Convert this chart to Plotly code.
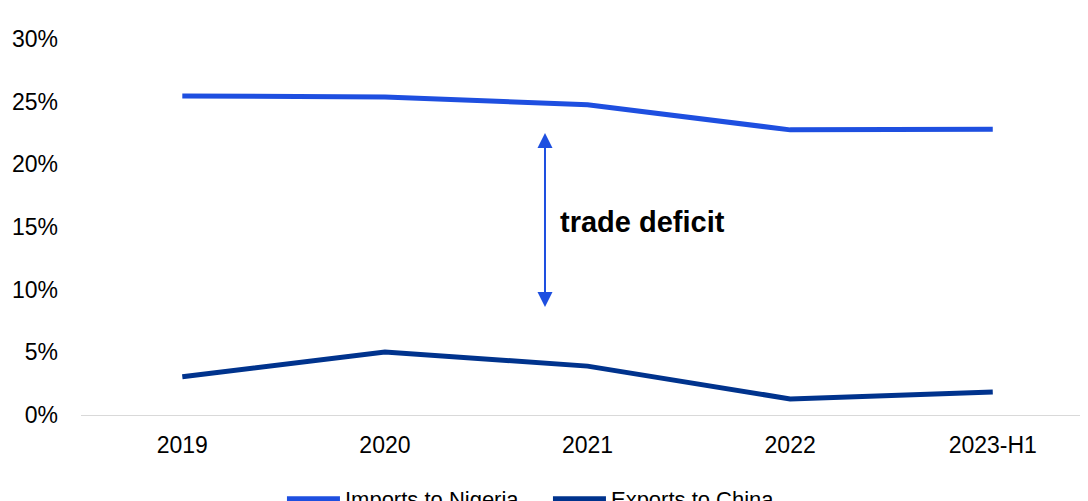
import plotly.graph_objects as go

categories = ["2019", "2020", "2021", "2022", "2023-H1"]
imports_to_nigeria = [25.45, 25.38, 24.75, 22.75, 22.8]
exports_to_china = [3.05, 5.02, 3.9, 1.28, 1.83]
y_ticks = [0, 5, 10, 15, 20, 25, 30]
y_tick_labels = ["0%", "5%", "10%", "15%", "20%", "25%", "30%"]

IMP_COLOR = "#1E4FE0"
EXP_COLOR = "#00338D"

fig = go.Figure()
fig.add_trace(go.Scatter(x=categories, y=imports_to_nigeria, mode="lines",
                         name="Imports to Nigeria",
                         line=dict(color=IMP_COLOR, width=5)))
fig.add_trace(go.Scatter(x=categories, y=exports_to_china, mode="lines",
                         name="Exports to China",
                         line=dict(color=EXP_COLOR, width=5)))

# double-headed arrow for trade deficit
fig.add_annotation(x=1.79, y=22.5, ax=1.79, ay=8.5, xref="x", yref="y",
                   axref="x", ayref="y", text="", showarrow=True,
                   arrowhead=2, startarrowhead=2, arrowside="end+start",
                   arrowsize=1.5, startarrowsize=1.5, arrowwidth=2,
                   arrowcolor=IMP_COLOR, standoff=0, startstandoff=0)
fig.add_annotation(x=1.853, y=15.4, xref="x", yref="y", text="<b>trade deficit</b>",
                   showarrow=False, xanchor="left", yanchor="middle",
                   font=dict(family="Liberation Sans, Arial", size=29, color="#000000"))

fig.update_layout(
    width=1088, height=501,
    margin=dict(l=73, r=8, t=31, b=94),
    paper_bgcolor="white", plot_bgcolor="white",
    font=dict(family="Liberation Sans, Arial", size=23, color="#000000"),
    showlegend=True,
    legend=dict(orientation="h", xref="container", yref="container",
                x=0.2518, xanchor="left", y=0.02, yanchor="middle",
                font=dict(size=22), itemwidth=53, entrywidth=198,
                bgcolor="rgba(0,0,0,0)"),
    xaxis=dict(type="category", range=[-0.5, 4.47], showgrid=False,
               showline=True, linecolor="#D9D9D9", linewidth=1,
               ticks="", ticklabelstandoff=9, zeroline=False, automargin=False),
    yaxis=dict(range=[0, 30], tickvals=y_ticks, ticktext=y_tick_labels,
               showgrid=False, zeroline=False, showline=False,
               ticks="", ticklabelstandoff=22, automargin=False),
)

fig.write_html("out.html")
